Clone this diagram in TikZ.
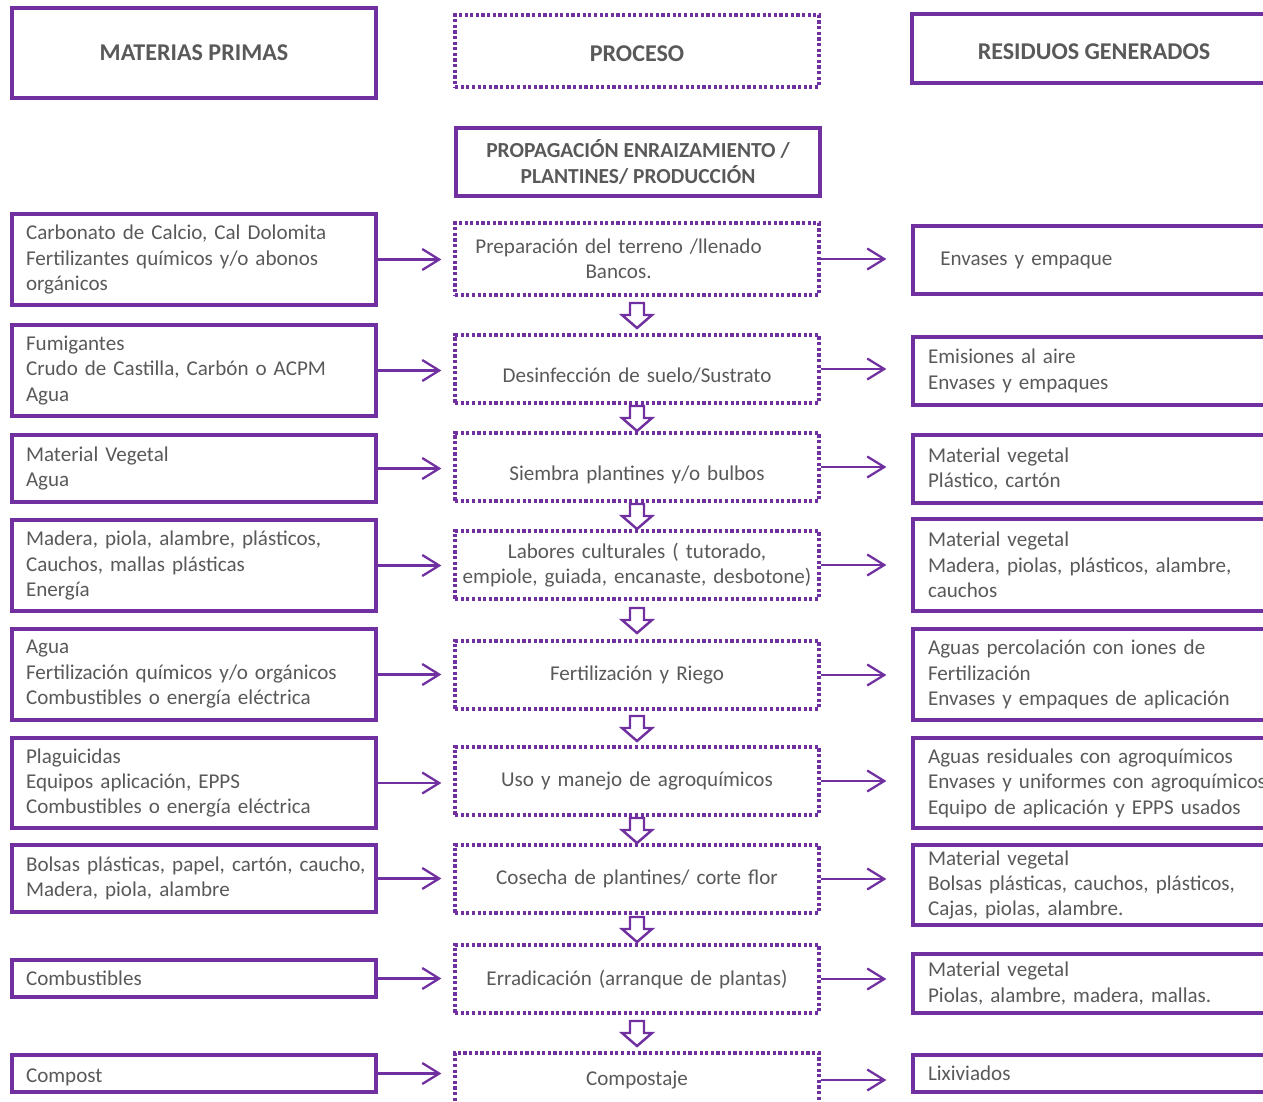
\documentclass[tikz,border=0pt]{standalone}
\usepackage{fontspec}
\setmainfont{Carlito}
\usetikzlibrary{arrows.meta}
\definecolor{morado}{HTML}{7030A0}
\definecolor{gristxt}{HTML}{595959}
% bajar un texto sin cambiar el tamano de su caja
\newcommand{\bajatxt}[2]{\raisebox{-#1}[\height][\depth]{#2}}

\begin{document}
\begin{tikzpicture}[x=0.02cm,y=-0.02cm,
    caja/.style={draw=morado, line width=1.9pt, text=gristxt, inner sep=0pt,
      font=\fontsize{12}{14.5}\selectfont},
    punteada/.style={caja, line cap=butt, dash pattern=on 1.8pt off 1.4pt},
    titulo/.style={font=\fontsize{13.7}{16}\selectfont\bfseries, minimum width=7.28cm},
    alto/.style={minimum height=#1*0.02cm},
    entrada/.style={caja, text width=6.72cm, inner xsep=0.28cm, align=left},
    proceso/.style={punteada, text width=7.08cm, inner xsep=0.1cm, align=center},
    residuo/.style={caja, text width=7.24cm, inner xsep=0.3cm, align=left},
    flecha/.style={draw=morado, line width=1.3pt, -{Straight Barb[length=0.34cm, width=0.42cm]}},
    bloque/.style={draw=morado, line width=1.4pt, fill=white, line join=miter}
  ]
  \useasboundingbox (0,0) rectangle (1263,1101);
  \clip (0,0) rectangle (1263,1101);
  % Encabezados
  \node[caja, titulo, alto=90] (mp) at (194,53) {MATERIAS PRIMAS};
  \node[punteada, titulo, alto=72] (pro) at (637,51) {\bajatxt{1.7pt}{PROCESO}};
  \node[caja, titulo, alto=69] (res) at (1094,48.5) {\bajatxt{1.7pt}{RESIDUOS GENERADOS}};
  \node[caja, titulo, alto=68, align=center, font=\fontsize{12.2}{14.5}\selectfont\bfseries] (prop) at (638,162)
    {PROPAGACIÓN ENRAIZAMIENTO /\\ PLANTINES/ PRODUCCIÓN};
  % Materias primas
  \node[entrada, alto=91] (e1) at (194,259.5) {Carbonato de Calcio, Cal Dolomita\\ Fertilizantes químicos y/o abonos\\ orgánicos};
  \node[entrada, alto=91] (e2) at (194,370.5) {Fumigantes\\ Crudo de Castilla, Carbón o ACPM\\ Agua};
  \node[entrada, alto=67] (e3) at (194,468.5) {Material Vegetal\\ Agua};
  \node[entrada, alto=91] (e4) at (194,565.5) {Madera, piola, alambre, plásticos,\\ Cauchos, mallas plásticas\\ Energía};
  \node[entrada, alto=91] (e5) at (194,674.5) {Agua\\ Fertilización químicos y/o orgánicos\\ Combustibles o energía eléctrica};
  \node[entrada, alto=90] (e6) at (194,783) {Plaguicidas\\ Equipos aplicación, EPPS\\ Combustibles o energía eléctrica};
  \node[entrada, alto=67] (e7) at (194,878.5) {\mbox{Bolsas plásticas, papel, cartón, caucho,}\\ Madera, piola, alambre};
  \node[entrada, alto=37] (e8) at (194,978.5) {Combustibles};
  \node[entrada, alto=37] (e9) at (194,1073.5) {\bajatxt{2pt}{Compost}};
  % Proceso
  \node[proceso, alto=72] (p1) at (637,259) {\hspace*{-21pt}Preparación del terreno /llenado\\ \hspace*{-21pt}Bancos.};
  \node[proceso, alto=68] (p2) at (637,369) {\bajatxt{4pt}{Desinfección de suelo/Sustrato}};
  \node[proceso, alto=68] (p3) at (637,467) {\bajatxt{4.5pt}{Siembra plantines y/o bulbos}};
  \node[proceso, alto=68] (p4) at (637,565) {Labores culturales ( tutorado,\\ empiole, guiada, encanaste, desbotone)};
  \node[proceso, alto=68] (p5) at (637,675) {Fertilización y Riego};
  \node[proceso, alto=68] (p6) at (637,781) {Uso y manejo de agroquímicos};
  \node[proceso, alto=68] (p7) at (637,879) {Cosecha de plantines/ corte flor};
  \node[proceso, alto=68] (p8) at (637,979) {Erradicación (arranque de plantas)};
  \node[proceso, alto=54] (p9) at (637,1080) {Compostaje};
  % Residuos
  \node[residuo, alto=68] (r1) at (1109,260) {\hspace*{7pt}Envases y empaque};
  \node[residuo, alto=68] (r2) at (1109,371) {Emisiones al aire\\ Envases y empaques};
  \node[residuo, alto=68] (r3) at (1109,469) {Material vegetal\\ Plástico, cartón};
  \node[residuo, alto=92] (r4) at (1109,565) {Material vegetal\\ Madera, piolas, plásticos, alambre,\\ cauchos};
  \node[residuo, alto=91] (r5) at (1109,674.5) {Aguas percolación con iones de\\ Fertilización\\ Envases y empaques de aplicación};
  \node[residuo, alto=90] (r6) at (1109,783) {Aguas residuales con agroquímicos\\ Envases y uniformes con agroquímicos\\ Equipo de aplicación y EPPS usados};
  \node[residuo, alto=80] (r7) at (1109,885) {Material vegetal\\ Bolsas plásticas, cauchos, plásticos,\\ Cajas, piolas, alambre.};
  \node[residuo, alto=59] (r8) at (1109,983.5) {Material vegetal\\ Piolas, alambre, madera, mallas.};
  \node[residuo, alto=37] (r9) at (1109,1073.5) {Lixiviados};
  % Flechas
  \foreach \i in {1,...,9}{
    \draw[flecha, shorten >=0.24cm] (e\i.east) -- (e\i.east -| p\i.west);
    \draw[flecha, shorten >=0.5cm] (p\i.east) -- (p\i.east -| r\i.west);
  }
  % Flechas de bloque entre etapas
  \foreach \a/\b in {p1/p2,p2/p3,p3/p4,p4/p5,p5/p6,p6/p7,p7/p8,p8/p9}{
    \path (\a.south) -- (\b.north) coordinate[midway] (m\a);
    \draw[bloque] (m\a) ++(-7,-12) -- ++(14,0) -- ++(0,12) -- ++(8,0)
      -- ++(-15,13) -- ++(-15,-13) -- ++(8,0) -- cycle;
  }
\end{tikzpicture}
\end{document}
